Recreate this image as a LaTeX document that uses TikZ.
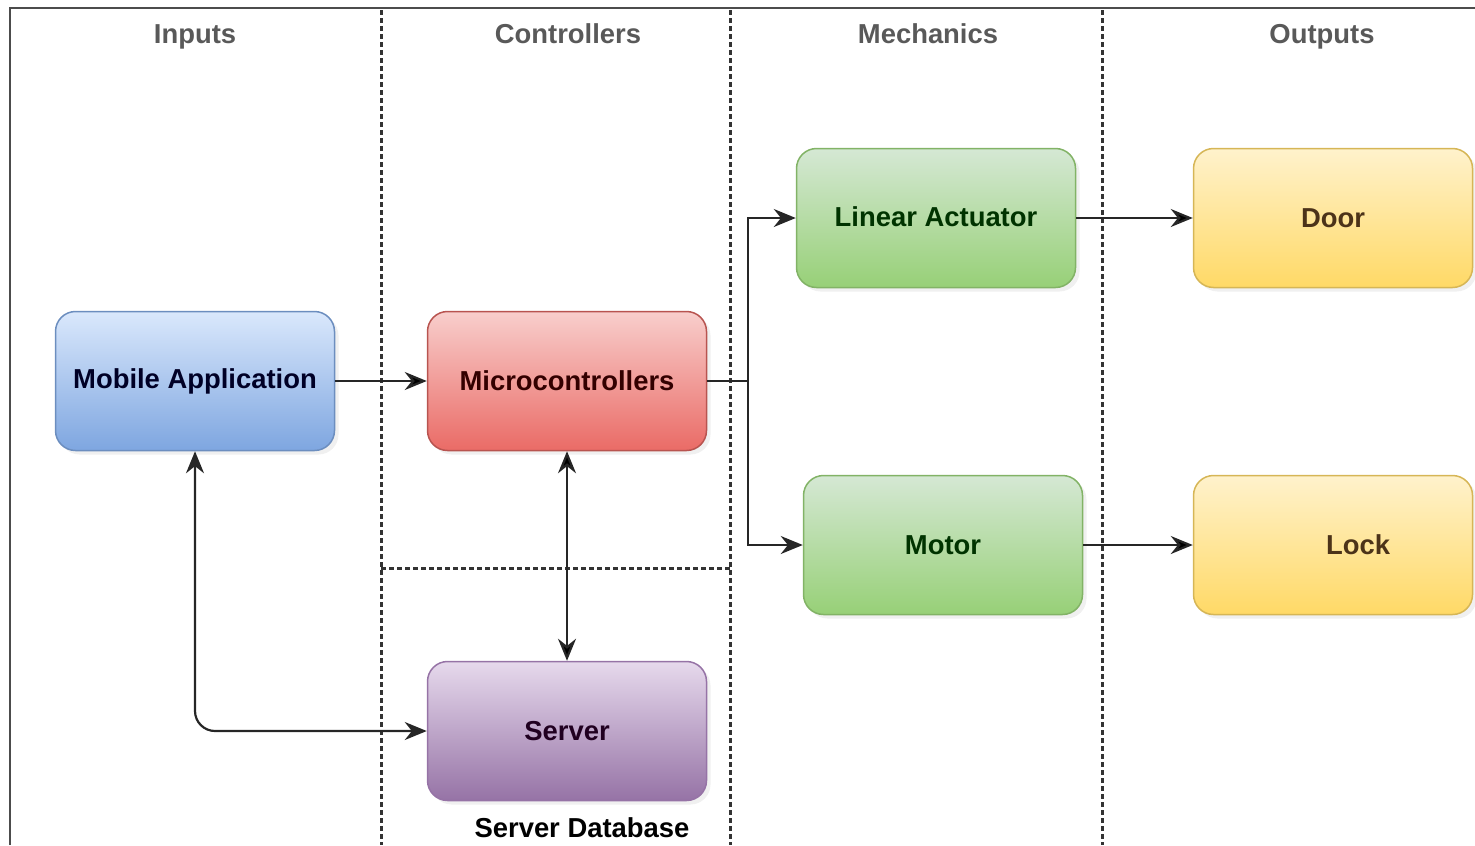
\documentclass[tikz,border=0pt]{standalone}
\usepackage{fontspec}
\setmainfont{Liberation Sans}
\usepackage{tikz}
\usetikzlibrary{arrows.meta, shadows, positioning}

\definecolor{inTop}{HTML}{DAE8FC}\definecolor{inBot}{HTML}{7EA6E0}\definecolor{inLine}{HTML}{6C8EBF}
\definecolor{ctTop}{HTML}{F8CECC}\definecolor{ctBot}{HTML}{EA6B66}\definecolor{ctLine}{HTML}{B85450}
\definecolor{mcTop}{HTML}{D5E8D4}\definecolor{mcBot}{HTML}{97D077}\definecolor{mcLine}{HTML}{82B366}
\definecolor{ouTop}{HTML}{FFF2CC}\definecolor{ouBot}{HTML}{FFD966}\definecolor{ouLine}{HTML}{D6B656}
\definecolor{svTop}{HTML}{E6D9EC}\definecolor{svBot}{HTML}{9673A6}\definecolor{svLine}{HTML}{9673A6}

\begin{document}
\begin{tikzpicture}[x=0.1mm, y=-0.1mm,
    >={Stealth[length=2.2mm, width=1.8mm]},
    every node/.style={font=\fontsize{7.8}{9}\selectfont\bfseries},
    head/.style={text=black!65, anchor=base},
    box/.style={draw, rounded corners=2mm, line width=0.15mm, inner sep=0pt,
        minimum width=27.9mm, minimum height=13.9mm,
        drop shadow={shadow xshift=0.4mm, shadow yshift=-0.4mm, opacity=0.12}},
    inbox/.style={box, top color=inTop, bottom color=inBot, draw=inLine, text=blue!15!black},
    ctbox/.style={box, top color=ctTop, bottom color=ctBot, draw=ctLine, text=red!20!black},
    mcbox/.style={box, top color=mcTop, bottom color=mcBot, draw=mcLine, text=green!20!black},
    oubox/.style={box, top color=ouTop, bottom color=ouBot, draw=ouLine, text=brown!40!black},
    svbox/.style={box, top color=svTop, bottom color=svBot, draw=svLine, text=violet!25!black},
    conn/.style={draw=black!85, line width=0.22mm},
    divider/.style={black!80, line width=0.3mm, dash pattern=on 0.45mm off 0.35mm}]

    \useasboundingbox (0,0) rectangle (1475,845);

    % frame and lanes
    \draw[black!70, line width=0.2mm] (10,845) -- (10,8) -- (1475,8);
    \draw[divider] (381,10) -- (381,845);
    \draw[divider] (730,10) -- (730,845);
    \draw[divider] (1102,10) -- (1102,845);
    \draw[divider] (381,568) -- (730,568);

    \node[head] (hin) at (195,43) {Inputs};
    \node[head] (hct) at (568,43) {Controllers};
    \node[head] (hmc) at (928,43) {Mechanics};
    \node[head] (hou) at (1322,43) {Outputs};

    % blocks
    \node[inbox] (mob) at (195,381) {Mobile Application};
    \node[ctbox] (mc) at (567,381) {Microcontrollers};
    \node[svbox] (srv) at (567,731) {Server};
    \node (sdb) at (582,828) {Server Database};
    \node[mcbox] (la) at (936,218) {\raisebox{0.3mm}{Linear Actuator}};
    \node[mcbox] (mot) at (943,545) {Motor};
    \node[oubox] (door) at (1333,218) {Door};
    \node[oubox] (lock) at (1333,545) {\hspace*{5mm}Lock};

    \coordinate (split) at (748,381);

    \draw[conn]
    (mob) edge[->] (mc)
    (la) edge[->] (door)
    (mot) edge[->] (lock)
    (mc.south) edge[<->] (srv.north);

    \draw[conn] (mc.east) -- (split);
    \draw[conn, ->] (split) |- (la.west);
    \draw[conn, ->] (split) |- (mot.west);
    \draw[conn, <->, rounded corners=2mm] (mob.south) |- (srv.west);
\end{tikzpicture}
\end{document}
